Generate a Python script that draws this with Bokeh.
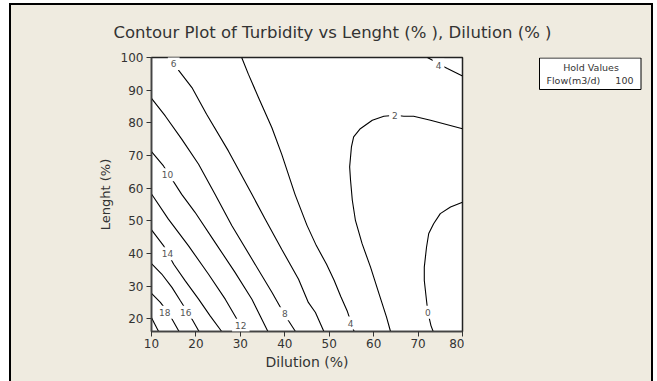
from bokeh.plotting import figure
from bokeh.models import Range1d, Label, FixedTicker
from bokeh.layouts import column, row
from bokeh.embed import file_html
from bokeh.resources import INLINE

# ---- data ----
x_ticks = [10, 20, 30, 40, 50, 60, 70, 80]
y_ticks = [20, 30, 40, 50, 60, 70, 80, 90, 100]

c20_x = [10.0, 11.6]
c20_y = [20.3, 16.1]
c18_x = [10.0, 12.0, 14.0, 16.2]
c18_y = [27.8, 25.0, 21.4, 16.1]
c16_x = [10.0, 12.3, 14.6, 16.5, 19.1, 20.7]
c16_y = [36.9, 33.7, 29.6, 25.5, 19.9, 16.1]
c14_x = [10.0, 12.7, 15.0, 17.6, 20.6, 23.2, 25.8]
c14_y = [47.2, 42.4, 36.7, 31.6, 26.0, 20.9, 16.1]
c12_x = [10.0, 10.5, 13.8, 18.3, 22.8, 26.6, 29.2, 31.0]
c12_y = [58.2, 57.2, 50.5, 42.4, 33.7, 26.0, 19.9, 16.1]
c10_x = [10.0, 12.7, 16.8, 19.8, 24.3, 28.8, 32.6, 36.2]
c10_y = [71.2, 66.8, 58.1, 52.6, 43.4, 34.2, 26.0, 16.1]
c8_x = [10.0, 13.1, 16.8, 20.6, 24.3, 28.1, 32.6, 37.1, 39.9, 42.4]
c8_y = [87.5, 82.1, 75.0, 67.3, 58.1, 48.5, 38.3, 28.1, 21.4, 16.1]
c6_x = [14.3, 16.2, 19.1, 22.4, 27.3, 32.6, 35.6, 39.3, 43.1, 45.3, 46.9, 48.8]
c6_y = [100.0, 95.9, 90.8, 82.6, 71.4, 58.1, 50.5, 41.3, 32.1, 25.0, 21.9, 16.1]
c4_x = [30.3, 31.8, 34.1, 37.1, 39.3, 42.3, 45.0, 47.1, 49.4, 51.1, 52.6, 54.1, 55.6]
c4_y = [100.0, 94.9, 87.7, 78.5, 70.4, 58.1, 48.6, 42.4, 36.7, 31.8, 26.8, 22.2, 16.1]
c2_x = [63.8, 62.9, 61.2, 59.3, 57.4, 55.9, 55.2, 54.8, 54.6, 55.0, 55.5, 57.0,
        59.7, 62.3, 64.9, 66.8, 69.0, 72.8, 80.0]
c2_y = [16.1, 20.5, 27.7, 35.8, 43.0, 50.1, 56.3, 62.4, 66.5, 72.6, 75.7, 78.2,
        80.8, 82.0, 82.3, 82.0, 82.0, 80.8, 78.2]
c4b_x = [72.1, 73.9, 74.7, 76.6, 80.0]
c4b_y = [100.0, 98.7, 97.9, 96.6, 94.3]
c0_x = [80.0, 77.3, 75.0, 73.5, 72.4, 71.9, 71.4, 71.4, 71.9, 72.2, 72.9, 73.4]
c0_y = [55.7, 54.2, 52.2, 49.1, 46.1, 41.9, 35.8, 31.7, 25.6, 22.0, 17.9, 16.1]

label_text = ["6", "10", "14", "18", "16", "12", "8", "4", "0", "2", "4"]
label_x = [15.0, 13.6, 13.6, 13.0, 17.7, 30.1, 40.0, 54.8, 72.2, 64.8, 74.6]
label_y = [98.2, 64.1, 39.9, 22.0, 22.0, 18.0, 21.5, 18.7, 22.0, 82.3, 97.6]

title_text = "Contour Plot of Turbidity vs Lenght (% ), Dilution (% )"
hold_title = "Hold Values"
hold_name = "Flow(m3/d)"
hold_value = "100"

# ---- styling ----
BEIGE = "#EFEBE0"
FONT = "DejaVu Sans"
TXT = "#333333"


def bare(fig):
    fig.border_fill_color = BEIGE
    fig.xgrid.visible = False
    fig.ygrid.visible = False


# title strip (pixel coordinates of the strip)
pt = figure(width=640, height=46, x_range=Range1d(0, 640), y_range=Range1d(0, 46),
            output_backend="svg", toolbar_location=None,
            x_axis_location=None, y_axis_location=None,
            min_border_left=0, min_border_right=0, min_border_top=0, min_border_bottom=0)
bare(pt)
pt.background_fill_color = BEIGE
pt.outline_line_color = None
pt.add_layout(Label(x=321, y=19, text=title_text,
                    text_align="center", text_baseline="middle",
                    text_font=FONT, text_font_size="16.5px", text_color=TXT))

# main contour plot
p = figure(width=453, height=330,
           x_range=Range1d(10, 80), y_range=Range1d(16.1, 100),
           output_backend="svg", toolbar_location=None,
           min_border_left=140, min_border_right=2,
           min_border_top=6, min_border_bottom=50)
bare(p)
p.background_fill_color = "white"
p.outline_line_color = "#222222"
p.outline_line_width = 1.5

for ax, ticks in ((p.xaxis, x_ticks), (p.yaxis, y_ticks)):
    ax.ticker = FixedTicker(ticks=ticks)
    ax.minor_tick_line_color = None
    ax.major_tick_in = 0
    ax.major_tick_out = 5
    ax.major_tick_line_color = TXT
    ax.axis_line_color = "#444444"
    ax.axis_line_width = 1.5
    ax.major_label_text_font = FONT
    ax.major_label_text_font_size = "12px"
    ax.major_label_text_color = TXT
    ax.axis_label_text_font = FONT
    ax.axis_label_text_font_style = "normal"
    ax.axis_label_text_color = TXT

p.xaxis.axis_label = "Dilution (%)"
p.xaxis.axis_label_text_font_size = "14px"
p.xaxis.major_label_standoff = 2
p.xaxis.axis_label_standoff = 3
p.yaxis.axis_label = "Lenght (%)"
p.yaxis.axis_label_text_font_size = "13px"
p.yaxis.major_label_standoff = 3
p.yaxis.axis_label_standoff = 5

xs = [c20_x, c18_x, c16_x, c14_x, c12_x, c10_x, c8_x, c6_x, c4_x, c2_x, c4b_x, c0_x]
ys = [c20_y, c18_y, c16_y, c14_y, c12_y, c10_y, c8_y, c6_y, c4_y, c2_y, c4b_y, c0_y]
p.multi_line(xs=xs, ys=ys, line_color="black", line_width=1.1)

for lx, ly, lt in zip(label_x, label_y, label_text):
    p.add_layout(Label(x=lx, y=ly, text=lt,
                       text_align="center", text_baseline="middle",
                       text_font=FONT, text_font_size="9px", text_color="#555555",
                       background_fill_color="white", padding=3))

# "Hold Values" box: side panel in its own pixel coordinates
ph = figure(width=187, height=330, x_range=Range1d(0, 187), y_range=Range1d(0, 274),
            output_backend="svg", toolbar_location=None,
            x_axis_location=None, y_axis_location=None,
            min_border_left=0, min_border_right=0, min_border_top=6, min_border_bottom=50)
bare(ph)
ph.background_fill_color = BEIGE
ph.outline_line_color = None
ph.quad(left=[75], right=[176.5], bottom=[242], top=[273.5],
        fill_color="white", line_color="black", line_width=1)
ph.add_layout(Label(x=126.5, y=264.3, text=hold_title, text_align="center", text_baseline="middle",
                    text_font=FONT, text_font_size="9.5px", text_color=TXT))
ph.add_layout(Label(x=82, y=251, text=hold_name, text_align="left", text_baseline="middle",
                    text_font=FONT, text_font_size="9.5px", text_color=TXT))
ph.add_layout(Label(x=169, y=251, text=hold_value, text_align="right", text_baseline="middle",
                    text_font=FONT, text_font_size="9.5px", text_color=TXT))

layout = column(pt, row(p, ph, spacing=0), spacing=0)
layout.margin = (5, 0, 0, 11)
layout.styles = {"outline": "2px solid black", "background-color": BEIGE}

open("out.html", "w").write(file_html(layout, INLINE))
